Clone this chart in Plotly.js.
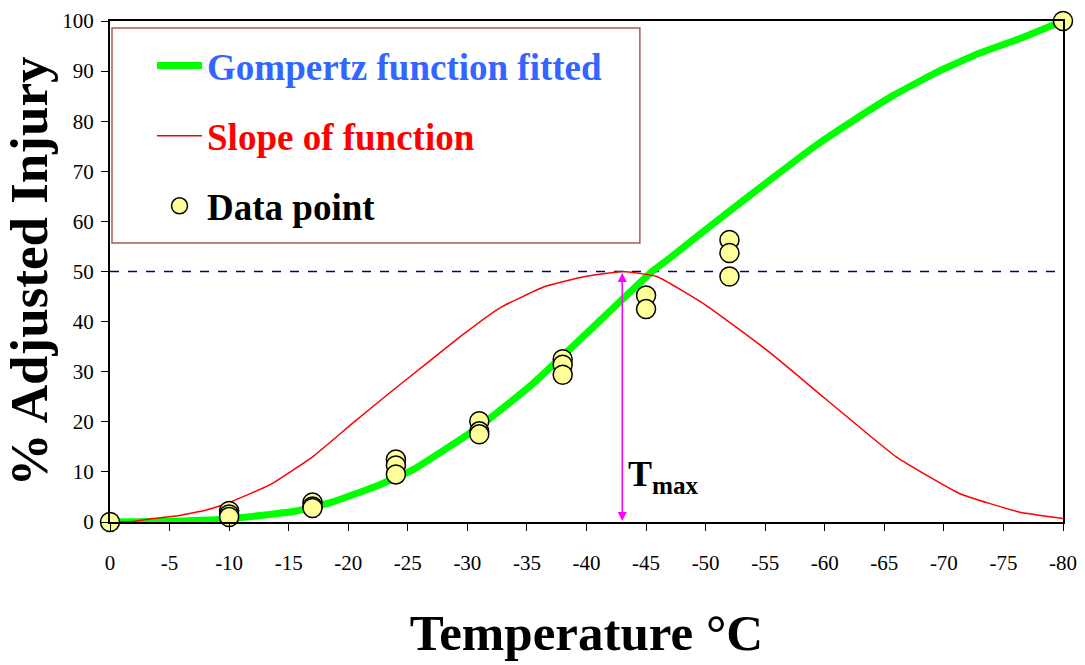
<!DOCTYPE html>
<html>
<head>
<meta charset="utf-8">
<script src="https://cdn.plot.ly/plotly-3.0.1.min.js"></script>
<style>html,body{margin:0;padding:0;background:#fff;}#chart{width:1085px;height:665px;}</style>
</head>
<body>
<div id="chart"></div>
<script>
// Gompertz fitted curve (% adjusted injury vs temperature)
const greenX = [0, -4.4, -9.8, -15.4, -18.7, -22.6, -25.4, -28, -31.1, -35.3, -39.5, -42.5, -45.5, -47, -51.8, -55.7, -59.1, -62.5, -65.8, -69.5, -73, -76.5, -80];
const greenY = [0, 0.1, 0.6, 2.1, 4, 7.4, 10.4, 14.3, 19.2, 27.2, 36.5, 43.3, 50, 52.7, 61.7, 68.8, 74.9, 80.3, 85.2, 89.9, 93.6, 96.6, 100];
// Slope of function (scaled)
const redX = [0, -2, -3.6, -5.5, -8.1, -10, -13.4, -17, -20.4, -23.8, -26.5, -29.4, -32.7, -36.5, -39.5, -43, -45.9, -50, -55.3, -60, -66, -71.3, -76.3, -80];
const redY = [0, 0.1, 0.7, 1.2, 2.4, 3.9, 7.4, 13, 19.8, 26.4, 31.5, 37, 42.7, 47, 48.8, 50, 49, 43.3, 34, 24.7, 13, 5.7, 2, 0.7];
// Observed data points
const ptsX = [0, -10, -10, -10, -17, -17, -17, -24, -24, -24, -31, -31, -31, -38, -38, -38, -45, -45, -52, -52, -52, -80];
const ptsY = [0, 2.2, 1.5, 1.0, 3.9, 3.1, 2.8, 12.5, 11.3, 9.5, 20.1, 18.1, 17.5, 32.5, 31.4, 29.4, 45.2, 42.5, 56.3, 53.7, 49, 100];
// Reference values
const halfLevel = 50;
const tmaxX = -43;
const tmaxLabelY = 9;
// Tick labels
const xTickVals = [0, -5, -10, -15, -20, -25, -30, -35, -40, -45, -50, -55, -60, -65, -70, -75, -80];
const xTickText = ['0', '-5', '-10', '-15', '-20', '-25', '-30', '-35', '-40', '-45', '-50', '-55', '-60', '-65', '-70', '-75', '-80'];
const yTickVals = [0, 10, 20, 30, 40, 50, 60, 70, 80, 90, 100];

const serif = '"Liberation Serif", "Times New Roman", serif';

const traces = [
  {
    x: greenX, y: greenY, type: 'scatter', mode: 'lines',
    name: '<span style="color:#3366ff">Gompertz function fitted</span>',
    legendgroup: 'g1',
    line: {color: '#00ff00', width: 7, shape: 'spline', smoothing: 0.3},
    hoverinfo: 'skip'
  },
  {
    x: redX, y: redY, type: 'scatter', mode: 'lines',
    name: '<span style="color:#ff0000">Slope of function</span>',
    legendgroup: 'g2',
    line: {color: '#ff0000', width: 1.5, shape: 'spline', smoothing: 0.4},
    hoverinfo: 'skip'
  },
  {
    x: ptsX, y: ptsY, type: 'scatter', mode: 'markers',
    name: '<span style="color:#000000">Data point</span>',
    legendgroup: 'g3',
    cliponaxis: false,
    marker: {size: 19, color: '#ffff99', line: {color: '#000000', width: 1.5}},
    hoverinfo: 'skip'
  }
];

const layout = {
  width: 1085, height: 665,
  margin: {l: 110, r: 22, t: 21, b: 143},
  paper_bgcolor: '#ffffff', plot_bgcolor: '#ffffff',
  font: {family: serif, color: '#000000', size: 20},
  showlegend: true,
  legend: {
    x: 0.0441, y: 0.972, xanchor: 'left', yanchor: 'top',
    bgcolor: 'rgba(0,0,0,0)', borderwidth: 0,
    font: {family: serif, size: 37, weight: 'bold', color: '#000'},
    itemwidth: 45, tracegroupgap: 19, traceorder: 'grouped'
  },
  xaxis: {
    range: [0, -80], autorange: false,
    tickmode: 'array', tickvals: xTickVals, ticktext: xTickText,
    ticks: 'outside', ticklen: 7, tickwidth: 1, tickcolor: '#000',
    ticklabelstandoff: 14,
    tickfont: {family: serif, size: 21, color: '#000'},
    showline: true, linecolor: '#000', linewidth: 2, mirror: true,
    showgrid: false, zeroline: false,
    title: {text: 'Temperature °C', font: {family: serif, size: 51, weight: 'bold', color: '#000'}, standoff: 40}
  },
  yaxis: {
    range: [0, 100], autorange: false,
    tickmode: 'array', tickvals: yTickVals,
    ticks: 'outside', ticklen: 7, tickwidth: 1, tickcolor: '#000',
    ticklabelstandoff: 3,
    tickfont: {family: serif, size: 21, color: '#000'},
    showline: true, linecolor: '#000', linewidth: 2, mirror: true,
    showgrid: false, zeroline: false,
    title: {text: '% Adjusted Injury', font: {family: serif, size: 53, weight: 'bold', color: '#000'}, standoff: 2}
  },
  shapes: [
    {type: 'line', xref: 'x', yref: 'y', x0: 0, x1: -80, y0: halfLevel, y1: halfLevel,
     line: {color: '#000080', width: 1.5, dash: 'dash'}, layer: 'below'},
    {type: 'rect', xref: 'paper', yref: 'paper', x0: 0.0021, x1: 0.556, y0: 0.557, y1: 0.986,
     line: {color: '#a85a5a', width: 1.5}, fillcolor: 'rgba(0,0,0,0)', layer: 'above'}
  ],
  annotations: [
    {x: tmaxX, y: 0, xref: 'x', yref: 'y', ax: tmaxX, ay: halfLevel, axref: 'x', ayref: 'y',
     text: '', showarrow: true, arrowside: 'end+start', arrowhead: 2, arrowsize: 1.2,
     arrowwidth: 1.5, arrowcolor: '#ff00ff', standoff: 1, startstandoff: 0},
    {x: tmaxX, y: tmaxLabelY, xref: 'x', yref: 'y', xanchor: 'left', yanchor: 'middle', xshift: 4,
     text: 'T<sub>max</sub>', showarrow: false,
     font: {family: serif, size: 36, weight: 'bold', color: '#000'}}
  ]
};

Plotly.newPlot('chart', traces, layout, {displayModeBar: false, staticPlot: true});
</script>
</body>
</html>
